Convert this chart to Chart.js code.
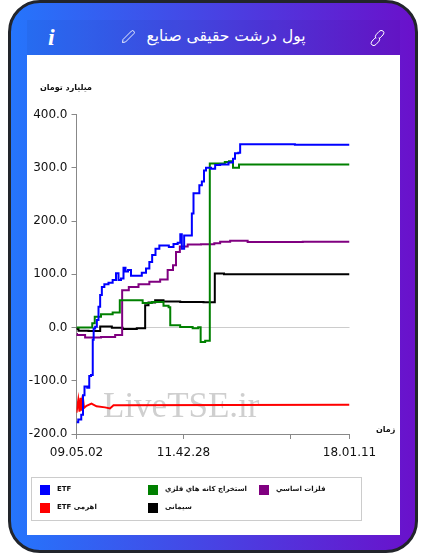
<!DOCTYPE html>
<html lang="fa">
<head>
<meta charset="utf-8">
<title>پول درشت حقیقی صنایع</title>
<script src="https://cdn.jsdelivr.net/npm/chart.js@4"></script>
<style>
    html, body { margin: 0; padding: 0; background: #fff; }
    body { width: 427px; height: 559px; position: relative; overflow: hidden; font-family: "DejaVu Sans", sans-serif; }
    #card {
        position: absolute; left: 8px; top: 0; width: 404px; height: 547px;
        border: 3px solid #22252b; border-radius: 32px;
        background: linear-gradient(90deg, #2575fc, #6a11cb);
    }
    #header { position: absolute; left: 27px; top: 20px; width: 373px; height: 35px; background: rgba(0, 0, 0, .04); }
    #title { position: absolute; left: 120px; top: 24px; width: 212px; text-align: center; color: #fff; font-size: 15.5px; line-height: 24px; direction: rtl; white-space: nowrap; }
    #panel { position: absolute; left: 27px; top: 55px; width: 373px; height: 480px; background: #fff; }
    #chart { position: absolute; left: 0; top: 0; }
    .icon { position: absolute; }
    #info { position: absolute; left: 48px; top: 23px; color: #fff; font: italic bold 24px/28px "Liberation Serif", serif; }
    .axisTitle { position: absolute; font-size: 8px; font-weight: bold; color: #111; direction: rtl; white-space: nowrap; line-height: 12px; }
    #legend { position: absolute; left: 31px; top: 477px; width: 329px; height: 42px; border: 1px solid #ccc; }
    .legendItem { position: absolute; font-size: 7px; font-weight: bold; color: #111; white-space: nowrap; line-height: 11px; }
    .legendBox { position: absolute; width: 10px; height: 10px; }
</style>
</head>
<body>
<div id="card"></div>
<div id="header"></div>
<div id="title">پول درشت حقیقی صنایع</div>
<div id="info">i</div>
<svg class="icon" style="left:121px;top:29px" width="15" height="15" viewBox="0 0 15 15" fill="none" stroke="#fff" stroke-width=".9">
    <path d="M2 10.5 L10.5 2 Q11.5 1 12.8 2.2 Q14 3.5 13 4.5 L4.5 13 L1.5 13.5 Z"/>
</svg>
<svg class="icon" style="left:369px;top:29px" width="17" height="18" viewBox="0 0 17 18" fill="none" stroke="#fff" stroke-width="1">
    <path d="M7 8 L5 10.2 L3 12 Q1 14.5 3 16 Q5 17.5 7 15.5 L10 12.2 Q11.5 10 10 8.5"/>
    <path d="M10 10 L12 7.8 L14 6 Q16 3.5 14 2 Q12 .5 10 2.5 L7 5.8 Q5.5 8 7 9.5"/>
</svg>
<div id="panel"></div>
<canvas id="chart" width="427" height="559"></canvas>
<div class="axisTitle" style="left:40px;top:82px">میلیارد تومان</div>
<div class="axisTitle" style="left:376px;top:424px">زمان</div>
<div id="legend"></div>

<script>
const tickValues = [400, 300, 200, 100, 0, -100, -200];
const timeTicks = [0, 107, 213.5, 273];
const timeLabels = ["09.05.02", "11.42.28", "", "18.01.11"];

const seriesNames = ["ETF", "استخراج کانه هاي فلزي", "فلزات اساسي", "ETF اهرمی", "سیمانی"];
const seriesColors = ["#0000ff", "#008000", "#800080", "#ff0000", "#000000"];

const etfSamples = [0, 3.5, 6, 7, 9, 12.5, 13, 16, 16.5, 17.8, 19.5, 21.2, 22.8, 24.5, 26.2, 29.5, 34.5, 37.8, 41.2, 42.8, 46.2, 47.8, 50.2, 52.8, 56.2, 62.8, 67.8, 71.2, 74.5, 76.8, 81.2, 84.5, 90.2, 94.5, 99.5, 102.8, 104.8, 105.8, 109.5, 114.5, 116.2, 117.8, 122.2, 123.5, 127.2, 127.8, 131.2, 137.8, 139.5, 147.8, 156.2, 156.8, 160.2, 163.5, 163.8, 273];
const etfValues = [-178, -173, -164, -127, -111, -113, -91, -89, -23, -2, 1.5, 14, 39, 61, 76, 81, 84, 89, 102, 89, 92, 112, 105, 108, 97, 97, 103, 111, 123, 136, 148, 154, 154, 151, 157, 159, 175, 148, 173, 173, 214, 252, 252, 267, 274, 295, 300, 298, 305, 306, 310, 317, 327, 328, 344, 343];

const oreSamples = [0, 14.5, 17, 19.5, 29.5, 42.8, 43.8, 64.5, 67.8, 82.8, 91.2, 93, 94.5, 112.8, 119.5, 123.8, 124.5, 132.8, 133.8, 147.8, 148.8, 156.2, 156.8, 160.5, 164.5, 273];
const oreValues = [0, 0, 8, 20, 25, 28, 51, 51, 46, 48, 41, 38, 4, 1, -1.5, 0.5, -27, -25, 308, 308, 311, 312, 300, 300, 306, 306];

const metalSamples = [0, 1, 16.2, 32.8, 44.5, 46.8, 57.8, 66.2, 79.5, 87.8, 94.5, 98.5, 100.5, 106.2, 116.2, 132.8, 142.8, 144.5, 162.8, 179.5, 273];
const metalValues = [-12, -14, -19, -18, -14, 70, 76, 81, 86, 90, 108, 117, 142, 152, 156, 156.5, 158, 161, 163, 160.5, 161];

const leveragedSamples = [0, 1.8, 3, 4, 5, 6.2, 7.5, 10, 15, 20, 28.5, 33.5, 37, 273];
const leveragedValues = [-160, -136, -158, -132, -156, -128, -151, -147, -143, -148, -150, -152, -146, -145];

const cementSamples = [0, 1.2, 2.8, 21.2, 26.2, 31.2, 39.5, 52.8, 67.8, 69.5, 74.5, 82.8, 91.2, 116.2, 137.8, 138.8, 156.2, 273];
const cementValues = [-3, -2, -6, -6.5, 2, 2, -0.5, -3, -1.5, 42, 47, 51, 49, 48, 47.5, 101.5, 100, 100];

function points(xs, ys) {
    return xs.map((x, i) => ({ x: x, y: ys[i] }));
}

// the page keeps the plot at fixed pixels, so drop the label overhang padding
function noOverhang(scale) {
    scale.paddingLeft = scale.paddingRight = scale.paddingTop = scale.paddingBottom = 0;
}

const watermark = {
    id: "watermark",
    beforeDatasetsDraw(chart) {
        const c = chart.ctx;
        c.save();
        c.font = "35px 'Liberation Serif', serif";
        c.fillStyle = "#cfcfcf";
        c.textBaseline = "alphabetic";
        c.fillText("LiveTSE.ir", 103, 417);
        c.restore();
    }
};

const seriesData = [
    points(etfSamples, etfValues),
    points(oreSamples, oreValues),
    points(metalSamples, metalValues),
    points(leveragedSamples, leveragedValues),
    points(cementSamples, cementValues)
];

new Chart(document.getElementById("chart"), {
    type: "line",
    data: {
        datasets: seriesNames.map((name, i) => ({
            label: name,
            data: seriesData[i],
            borderColor: seriesColors[i],
            borderWidth: 2,
            pointRadius: 0,
            // the leveraged series jitters too fast to draw as stairs
            stepped: i === 3 ? false : "middle",
            tension: 0
        }))
    },
    plugins: [watermark],
    options: {
        responsive: false,
        animation: false,
        layout: { padding: { left: 0, top: 114.5, right: 77.5, bottom: 100 } },
        plugins: { legend: { display: false }, tooltip: { enabled: false } },
        scales: {
            x: {
                type: "linear",
                min: 0,
                max: 273,
                afterBuildTicks: s => { s.ticks = timeTicks.map(v => ({ value: v })); },
                afterFit: s => { s.height = 25; noOverhang(s); },
                border: { color: "#888" },
                grid: { drawOnChartArea: false, tickColor: "#888", tickLength: 5 },
                ticks: {
                    autoSkip: false,
                    maxRotation: 0,
                    padding: 7,
                    color: "#111",
                    font: { family: "DejaVu Sans", size: 12 },
                    callback: v => timeLabels[timeTicks.indexOf(v)]
                }
            },
            y: {
                min: -200,
                max: 400,
                afterBuildTicks: s => { s.ticks = tickValues.map(v => ({ value: v })); },
                afterFit: s => { s.width = 76.5; noOverhang(s); },
                border: { color: "#888" },
                grid: {
                    color: c => (c.tick && c.tick.value === 0 ? "#ccc" : "transparent"),
                    tickColor: "#888",
                    tickLength: 5
                },
                ticks: {
                    padding: 4,
                    color: "#111",
                    font: { family: "DejaVu Sans", size: 12 },
                    callback: v => v.toFixed(1)
                }
            }
        }
    }
});

// legend: three columns, two rows
const legendCols = [40, 148, 259];
const legendRows = [490, 508];
const legendOrder = [[0, 0, 0], [1, 1, 0], [2, 2, 0], [3, 0, 1], [4, 1, 1]];
legendOrder.forEach(([s, col, row]) => {
    const box = document.createElement("div");
    box.className = "legendBox";
    box.style.cssText = `left:${legendCols[col]}px;top:${legendRows[row] - 5}px;background:${seriesColors[s]}`;
    document.body.appendChild(box);
    const label = document.createElement("div");
    label.className = "legendItem";
    label.textContent = seriesNames[s];
    label.style.cssText = `left:${legendCols[col] + 17}px;top:${legendRows[row] - 6}px`;
    document.body.appendChild(label);
});
</script>
</body>
</html>
